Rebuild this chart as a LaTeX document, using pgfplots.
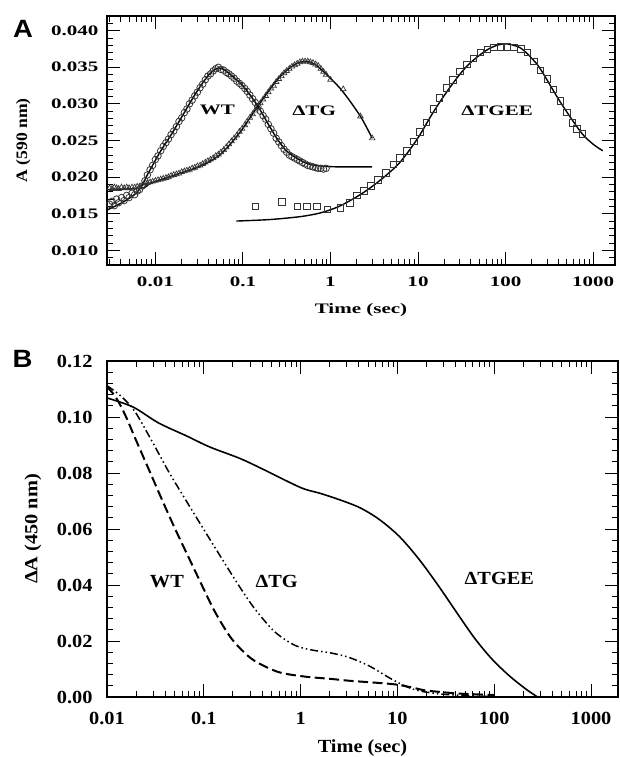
\documentclass[border=0pt]{standalone}
\usepackage{pgfplots}
\pgfplotsset{compat=1.18}
\usepackage{fontspec}
\setmainfont{Liberation Serif}
\newfontfamily\fA{Liberation Serif}[FakeStretch=1.45]
\newfontfamily\fB{Liberation Serif}[FakeStretch=1.1]
\newfontfamily\fS{Liberation Sans}[FakeStretch=1.1]
\newcommand\tA{\fA\bfseries\fontsize{14.5bp}{17bp}\selectfont}
\newcommand\yA{\fB\bfseries\fontsize{16bp}{18bp}\selectfont}
\newcommand\tB{\fB\bfseries\fontsize{18.5bp}{21bp}\selectfont}
\newcommand\pL{\fS\bfseries\fontsize{25bp}{28bp}\selectfont}
\definecolor{mk}{gray}{0.2}
\begin{document}
\begin{tikzpicture}
\path[use as bounding box] (0,0) rectangle (620bp,757bp);
\node[font=\pL] at (23bp,728bp) {A};
\node[font=\pL] at (22.5bp,398bp) {B};
% ---------------- Panel A ----------------
\begin{semilogxaxis}[
  scale only axis,
  axis line style={line width=1.1bp},
  tick style={line width=0.9bp, black},
  major tick length=13bp, minor tick length=6bp,
  at={(107bp,492bp)}, anchor=south west, width=508bp, height=249bp,
  xmin=0.0028, xmax=1780, ymin=0.008, ymax=0.042,
  scaled y ticks=false,
  xtick={0.01,0.1,1,10,100,1000},
  xticklabels={0.01,0.1,1,10,100,1000},
  minor xtick={0.003,0.004,0.005,0.006,0.007,0.008,0.009,0.02,0.03,0.04,0.05,0.06,0.07,0.08,0.09,0.2,0.3,0.4,0.5,0.6,0.7,0.8,0.9,2,3,4,5,6,7,8,9,20,30,40,50,60,70,80,90,200,300,400,500,600,700,800,900},
  ytick={0.010,0.015,0.020,0.025,0.030,0.035,0.040},
  yticklabels={0.010,0.015,0.020,0.025,0.030,0.035,0.040},
  minor ytick={0.008,0.009,0.011,0.012,0.013,0.014,0.016,0.017,0.018,0.019,0.021,0.022,0.023,0.024,0.026,0.027,0.028,0.029,0.031,0.032,0.033,0.034,0.036,0.037,0.038,0.039,0.041,0.042},
  tick label style={font=\tA},
  yticklabel style={xshift=-5bp},
  xticklabel style={yshift=-8bp},
  xlabel={Time (sec)}, ylabel={A (590 nm)},
  xlabel style={font=\tA, at={(axis description cs:0.5,-0.181)}, anchor=center},
  ylabel style={font=\yA, at={(axis description cs:-0.165,0.5)}, anchor=center},
]
% WT data (circles)
\addplot[only marks, mark=o, mark size=3.3bp, mark options={draw=mk, line width=0.8bp}] coordinates {
(0.0030,0.0163)(0.0032,0.0167)(0.0034,0.0161)(0.0036,0.0170)(0.0038,0.0165)(0.0041,0.0172)(0.0044,0.0168)(0.0047,0.0175)(0.0050,0.0172)(0.0054,0.0178)(0.0058,0.0176)(0.0062,0.0181)(0.0066,0.0183)(0.0071,0.0188)(0.0076,0.0195)(0.0081,0.0203)(0.0087,0.0210)(0.0093,0.0216)(0.0100,0.0224)(0.0107,0.0229)(0.0115,0.0236)(0.0123,0.0242)(0.0132,0.0247)(0.0141,0.0252)(0.0151,0.0258)(0.0162,0.0263)(0.0174,0.0269)(0.0186,0.0276)(0.0200,0.0281)(0.0214,0.0288)(0.0229,0.0293)(0.0245,0.0300)(0.0263,0.0305)(0.0282,0.0311)(0.0302,0.0316)(0.0324,0.0322)(0.0347,0.0327)(0.0372,0.0333)(0.0398,0.0338)(0.0427,0.0341)(0.0457,0.0345)(0.0490,0.0348)(0.0525,0.0350)(0.0562,0.0347)(0.0603,0.0346)(0.0646,0.0343)(0.0692,0.0341)(0.0741,0.0338)(0.0794,0.0335)(0.0851,0.0331)(0.0912,0.0328)(0.0977,0.0325)(0.105,0.0321)(0.112,0.0317)(0.120,0.0312)(0.129,0.0307)(0.138,0.0302)(0.148,0.0296)(0.158,0.0290)(0.170,0.0284)(0.182,0.0279)(0.195,0.0272)(0.209,0.0266)(0.224,0.0260)(0.240,0.0253)(0.257,0.0248)(0.275,0.0243)(0.295,0.0238)(0.316,0.0234)(0.339,0.0230)(0.363,0.0228)(0.389,0.0226)(0.417,0.0224)(0.447,0.0222)(0.479,0.0220)(0.513,0.0218)(0.550,0.0216)(0.589,0.0215)(0.631,0.0214)(0.676,0.0213)(0.724,0.0212)(0.776,0.0212)(0.832,0.0211)(0.891,0.0212)
};
% dTG data (triangles)
\addplot[only marks, mark=triangle, mark size=3.2bp, mark options={draw=mk, line width=0.7bp}] coordinates {
(0.0030,0.0185)(0.0032,0.0184)(0.0034,0.0186)(0.0036,0.0185)(0.0038,0.0184)(0.0041,0.0186)(0.0044,0.0185)(0.0047,0.0186)(0.0050,0.0185)(0.0054,0.0186)(0.0058,0.0186)(0.0062,0.0187)(0.0066,0.0187)(0.0071,0.0188)(0.0076,0.0193)(0.0081,0.0192)(0.0087,0.0193)(0.0093,0.0194)(0.0100,0.0195)(0.0107,0.0196)(0.0115,0.0197)(0.0123,0.0198)(0.0132,0.0199)(0.0141,0.0200)(0.0151,0.0202)(0.0162,0.0203)(0.0174,0.0204)(0.0186,0.0205)(0.0200,0.0207)(0.0214,0.0208)(0.0229,0.0209)(0.0245,0.0210)(0.0263,0.0212)(0.0282,0.0213)(0.0302,0.0215)(0.0324,0.0216)(0.0347,0.0218)(0.0372,0.0220)(0.0398,0.0222)(0.0427,0.0224)(0.0457,0.0226)(0.0490,0.0229)(0.0525,0.0231)(0.0562,0.0234)(0.0603,0.0237)(0.0646,0.0241)(0.0692,0.0245)(0.0741,0.0249)(0.0794,0.0253)(0.0851,0.0257)(0.0912,0.0262)(0.0977,0.0266)(0.105,0.0271)(0.112,0.0276)(0.120,0.0281)(0.129,0.0286)(0.138,0.0291)(0.148,0.0296)(0.158,0.0301)(0.170,0.0306)(0.182,0.0311)(0.195,0.0316)(0.209,0.0321)(0.224,0.0325)(0.240,0.0330)(0.257,0.0334)(0.275,0.0338)(0.295,0.0342)(0.316,0.0345)(0.339,0.0348)(0.363,0.0351)(0.389,0.0353)(0.417,0.0355)(0.447,0.0357)(0.479,0.0358)(0.513,0.0358)(0.550,0.0358)(0.589,0.0357)(0.631,0.0356)(0.676,0.0354)(0.724,0.0352)(0.776,0.0348)(0.832,0.0344)(0.891,0.0340)(1.0,0.0333)(1.4,0.0320)(2.2,0.0283)(3.0,0.0253)
};
% dTGEE data (squares)
\addplot[only marks, mark=square, mark size=3.2bp, mark options={draw=mk, line width=0.8bp}] coordinates {
(0.139,0.0160)(0.28,0.0166)(0.42,0.0160)(0.54,0.0160)(0.70,0.0160)(0.92,0.0156)(1.3,0.0158)(1.67,0.0165)(2.0,0.0175)(2.4,0.0181)(2.9,0.0188)(3.5,0.0196)(4.3,0.0206)(5.2,0.0217)(6.2,0.0226)(7.5,0.0236)(9.0,0.0249)(10.5,0.0262)(12.5,0.0275)(15,0.0293)(17.5,0.0308)(21,0.0322)(25,0.0333)(30,0.0344)(36,0.0354)(43,0.0362)(52,0.0370)(62,0.0374)(74,0.0377)(88,0.0378)(105,0.0378)(125,0.0377)(150,0.0375)(178,0.0370)(210,0.0358)(250,0.0346)(300,0.0334)(350,0.0320)(420,0.0304)(500,0.0288)(580,0.0274)(650,0.0266)(760,0.0259)
};
% fits
\addplot[black, line width=1.4bp, smooth] coordinates {
(0.0028,0.0155)(0.004,0.0164)(0.005,0.0171)(0.006,0.0178)(0.007,0.0188)(0.008,0.0202)(0.009,0.0213)(0.0114,0.0235)(0.0148,0.0256)(0.0193,0.0279)(0.025,0.0302)(0.0326,0.0324)(0.0424,0.0342)(0.052,0.0349)(0.06,0.0347)(0.072,0.0340)(0.101,0.0324)(0.146,0.0298)(0.2,0.0270)(0.25,0.0251)(0.32,0.0235)(0.45,0.0223)(0.6,0.0217)(0.8,0.0215)(1.2,0.0214)(2,0.0214)(3,0.0214)
};
\addplot[black, line width=1.4bp, smooth] coordinates {
(0.0028,0.0183)(0.007,0.0185)(0.0085,0.0191)(0.01,0.0194)(0.02,0.0206)(0.0326,0.0215)(0.0553,0.0231)(0.0935,0.0262)(0.15,0.0298)(0.247,0.0333)(0.35,0.0350)(0.45,0.0357)(0.55,0.0358)(0.7,0.0352)(1.0,0.0335)(1.4,0.0316)(2.2,0.0283)(3.0,0.0253)
};
\addplot[black, line width=1.4bp, smooth] coordinates {
(0.084,0.0140)(0.2,0.0142)(0.45,0.0146)(0.76,0.0151)(1.2,0.0159)(1.8,0.0170)(2.6,0.0182)(4,0.0199)(6.2,0.0220)(9.8,0.0252)(15,0.0289)(23,0.0322)(36.5,0.0352)(62,0.0374)(95,0.0382)(145,0.0377)(200,0.0362)(252,0.0347)(420,0.0303)(730,0.0261)(1000,0.0245)(1290,0.0236)
};
\node[font=\tA] at (axis cs:0.051,0.0292) {WT};
\node[font=\tA] at (axis cs:0.65,0.0291) {ΔTG};
\node[font=\tA] at (axis cs:80,0.0290) {ΔTGEE};
\end{semilogxaxis}
% ---------------- Panel B ----------------
\begin{semilogxaxis}[
  scale only axis,
  axis line style={line width=1.1bp},
  tick style={line width=0.9bp, black},
  major tick length=13bp, minor tick length=6bp,
  at={(107bp,60bp)}, anchor=south west, width=511bp, height=336bp,
  xmin=0.01, xmax=1900, ymin=0, ymax=0.12,
  scaled y ticks=false,
  xtick={0.01,0.1,1,10,100,1000},
  xticklabels={0.01,0.1,1,10,100,1000},
  minor xtick={0.02,0.03,0.04,0.05,0.06,0.07,0.08,0.09,0.2,0.3,0.4,0.5,0.6,0.7,0.8,0.9,2,3,4,5,6,7,8,9,20,30,40,50,60,70,80,90,200,300,400,500,600,700,800,900},
  ytick={0,0.02,0.04,0.06,0.08,0.10,0.12},
  yticklabels={0.00,0.02,0.04,0.06,0.08,0.10,0.12},
  minor ytick={0.004,0.008,0.012,0.016,0.024,0.028,0.032,0.036,0.044,0.048,0.052,0.056,0.064,0.068,0.072,0.076,0.084,0.088,0.092,0.096,0.104,0.108,0.112,0.116},
  tick label style={font=\tB},
  yticklabel style={xshift=-11bp},
  xticklabel style={yshift=-12bp},
  xlabel={Time (sec)}, ylabel={ΔA (450 nm)},
  xlabel style={font=\tB, at={(axis description cs:0.5,-0.152)}, anchor=center},
  ylabel style={font=\tB, at={(axis description cs:-0.145,0.5)}, anchor=center},
]
% WT dashed
\addplot[black, line width=2bp, dash pattern=on 10bp off 4.5bp, smooth] coordinates {
(0.01,0.1108)(0.0118,0.1080)(0.0136,0.1045)(0.0160,0.0995)(0.0195,0.0925)(0.0279,0.0802)(0.0375,0.0700)(0.0506,0.0600)(0.0694,0.0500)(0.0953,0.0400)(0.130,0.0305)(0.194,0.0208)(0.313,0.0136)(0.579,0.0090)(1.10,0.0073)(2.0,0.0065)(3.2,0.0058)(6,0.0051)(10,0.0044)(15,0.0032)(20,0.0023)(40,0.0013)(60,0.0010)(100,0.0007)
};
% dTG dash-dot-dot
\addplot[black, line width=1.5bp, dash pattern=on 8bp off 3bp on 1.5bp off 3bp on 1.5bp off 3bp, smooth] coordinates {
(0.01,0.1112)(0.0140,0.1074)(0.0194,0.1020)(0.029,0.0915)(0.0433,0.0805)(0.066,0.0700)(0.0993,0.0600)(0.150,0.0500)(0.228,0.0400)(0.336,0.0315)(0.540,0.0233)(0.867,0.0185)(1.3,0.0168)(2.0,0.0158)(3.0,0.0144)(4.1,0.0126)(5.3,0.0108)(6.5,0.0090)(8.3,0.0068)(10.5,0.0049)(13,0.0034)(16.8,0.0022)(26.8,0.0011)(50,0.0005)(100,0.0001)
};
% dTGEE solid
\addplot[black, line width=1.6bp, smooth] coordinates {
(0.01,0.1068)(0.0185,0.1036)(0.034,0.0979)(0.0667,0.0932)(0.115,0.0893)(0.236,0.0852)(0.40,0.0815)(1.0,0.0748)(1.57,0.0728)(2.5,0.0705)(4.1,0.0676)(6.5,0.0634)(10.5,0.0573)(16.8,0.0491)(26.8,0.0395)(43.6,0.0288)(64,0.0206)(95,0.0135)(144,0.0075)(213,0.0028)(280,0.0000)
};
\node[font=\tB] at (axis cs:0.0416,0.0413) {WT};
\node[font=\tB] at (axis cs:0.566,0.0413) {ΔTG};
\node[font=\tB] at (axis cs:113,0.0423) {ΔTGEE};
\end{semilogxaxis}
\end{tikzpicture}
\end{document}
